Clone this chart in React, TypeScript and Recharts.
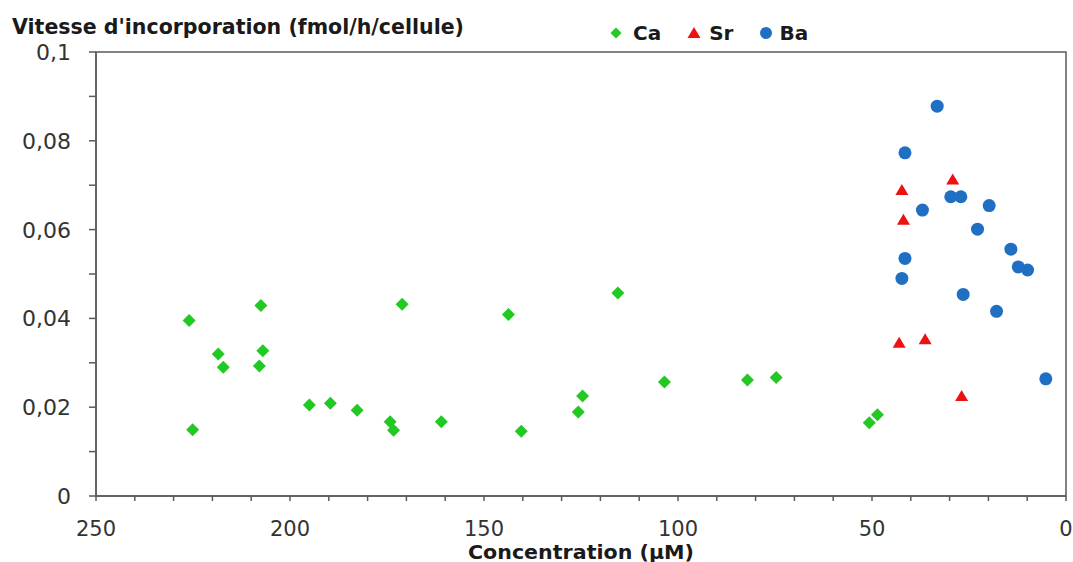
import React from 'react';
import { ReferenceArea, Scatter, ScatterChart, XAxis, YAxis } from 'recharts';

type point = {
    x: number
    y: number
};

// concentration (µM)
const caConcentration = [226, 225.1, 218.5, 217.2, 207.5, 207.0, 207.9, 195, 189.6, 182.7, 174.2, 173.3, 171.1, 161, 143.7, 140.4, 125.7, 124.6, 115.5, 103.5, 82.1, 74.7, 50.7, 48.6];
const caRate = [0.0395, 0.0149, 0.0320, 0.0290, 0.0429, 0.0327, 0.0293, 0.0205, 0.0209, 0.0193, 0.0167, 0.0148, 0.0432, 0.0167, 0.0409, 0.0146, 0.0189, 0.0225, 0.0457, 0.0257, 0.0261, 0.0267, 0.0165, 0.0183];

const srConcentration = [42.3, 41.9, 29.2, 43.0, 36.3, 26.9];
const srRate = [0.0689, 0.0622, 0.0713, 0.0345, 0.0353, 0.0225];

const baConcentration = [33.2, 41.5, 29.7, 27.1, 19.8, 37.0, 22.8, 14.2, 12.3, 9.9, 41.5, 42.3, 26.5, 17.9, 5.2];
const baRate = [0.0878, 0.0773, 0.0674, 0.0674, 0.0654, 0.0644, 0.0601, 0.0556, 0.0516, 0.0509, 0.0535, 0.0490, 0.0454, 0.0416, 0.0264];

const xTicks = [0, 10, 20, 30, 40, 50, 60, 70, 80, 90, 100, 110, 120, 130, 140, 150, 160, 170, 180, 190, 200, 210, 220, 230, 240, 250];
const yTicks = [0, 0.01, 0.02, 0.03, 0.04, 0.05, 0.06, 0.07, 0.08, 0.09, 0.1];

const GREEN = '#22c922';
const RED = '#ee1111';
const BLUE = '#1f6fc2';
const AXIS = '#5a5a5a';
const FONT = '"DejaVu Sans", sans-serif';

const toPoints = (xs: number[], ys: number[]): point[] => xs.map((x, i) => ({ x, y: ys[i] }));

const caData = toPoints(caConcentration, caRate);
const srData = toPoints(srConcentration, srRate);
const baData = toPoints(baConcentration, baRate);

const Diamond = ({ cx, cy }: any) => (
    <polygon points={`${cx},${cy - 6.5} ${cx + 6.5},${cy} ${cx},${cy + 6.5} ${cx - 6.5},${cy}`} fill={GREEN}/>
);

const Triangle = ({ cx, cy }: any) => (
    <polygon points={`${cx},${cy - 6} ${cx + 6.5},${cy + 5} ${cx - 6.5},${cy + 5}`} fill={RED}/>
);

const Dot = ({ cx, cy }: any) => <circle cx={cx} cy={cy} r={6.5} fill={BLUE}/>;

const XTick = ({ x, y, payload }: any) => {
    if (payload.value % 50 !== 0) return <g/>;
    return (
        <text x={x} y={y + 33} textAnchor="middle" fontFamily={FONT} fontSize={21} fill="#333">
            {payload.value}
        </text>
    );
};

const formatRate = (v: number) => (v === 0 ? '0' : String(+v.toFixed(2)).replace('.', ','));

const YTick = ({ x, y, payload }: any) => {
    if (Math.round(payload.value * 100) % 2 !== 0) return <g/>;
    return (
        <text x={x - 16} y={y + 8} textAnchor="end" fontFamily={FONT} fontSize={22} fill="#333">
            {formatRate(payload.value)}
        </text>
    );
};

const legendItems = [
    { name: 'Ca', icon: <polygon points="7,1.5 12.5,7 7,12.5 1.5,7" fill={GREEN}/>, gap: 10 },
    { name: 'Sr', icon: <polygon points="7,1 13.5,12 0.5,12" fill={RED}/>, gap: 8 },
    { name: 'Ba', icon: <circle cx={7} cy={7} r={6} fill={BLUE}/>, gap: 6 }
];

function ChartLegend(): JSX.Element {
    return (
        <div style={{ position: 'absolute', left: 609, top: 21, display: 'flex', alignItems: 'center', fontFamily: FONT, fontWeight: 'bold', fontSize: 20, color: '#1a1a1a' }}>
            {legendItems.map(item => (
                <div key={item.name} style={{ display: 'flex', alignItems: 'center', marginRight: 26 }}>
                    <svg width={14} height={14} style={{ marginRight: item.gap }}>{item.icon}</svg>
                    <span>{item.name}</span>
                </div>
            ))}
        </div>
    );
}

export default function App(): JSX.Element {
    return (
        <div style={{ position: 'absolute', left: 0, top: 0, width: 1073, height: 562, background: '#fff' }}>
            <ScatterChart width={1073} height={562} margin={{ top: 52, right: 7, bottom: 0, left: 0 }}>
                <XAxis
                    dataKey="x"
                    type="number"
                    domain={[0, 250]}
                    reversed
                    ticks={xTicks}
                    interval={0}
                    height={66}
                    tickSize={5}
                    tickMargin={2}
                    stroke={AXIS}
                    strokeWidth={1.5}
                    tick={<XTick/>}
                    label={{
                        content: ({ viewBox }: any) => (
                            <text x={viewBox.x + viewBox.width / 2} y={viewBox.y + 63} textAnchor="middle"
                                  fontFamily={FONT} fontWeight="bold" fontSize={19} fill="#1a1a1a"
                                  textLength={226} lengthAdjust="spacingAndGlyphs">
                                Concentration (µM)
                            </text>
                        )
                    }}
                />
                <YAxis
                    dataKey="y"
                    type="number"
                    domain={[0, 0.1]}
                    ticks={yTicks}
                    interval={0}
                    width={96}
                    tickSize={7}
                    tickMargin={2}
                    stroke={AXIS}
                    strokeWidth={1.5}
                    tick={<YTick/>}
                    label={{
                        content: ({ viewBox }: any) => (
                            <text x={viewBox.x + 12} y={viewBox.y - 18} fontFamily={FONT} fontWeight="bold"
                                  fontSize={21} fill="#1a1a1a" textLength={452} lengthAdjust="spacingAndGlyphs">
                                Vitesse d'incorporation (fmol/h/cellule)
                            </text>
                        )
                    }}
                />
                <ReferenceArea x1={0} x2={250} y1={0} y2={0.1} fill="none" stroke={AXIS} strokeWidth={1.5}/>
                <Scatter name="Ca" data={caData} shape={(p: any) => <Diamond {...p}/>} isAnimationActive={false}/>
                <Scatter name="Sr" data={srData} shape={(p: any) => <Triangle {...p}/>} isAnimationActive={false}/>
                <Scatter name="Ba" data={baData} shape={(p: any) => <Dot {...p}/>} isAnimationActive={false}/>
            </ScatterChart>
            <ChartLegend/>
        </div>
    );
}
